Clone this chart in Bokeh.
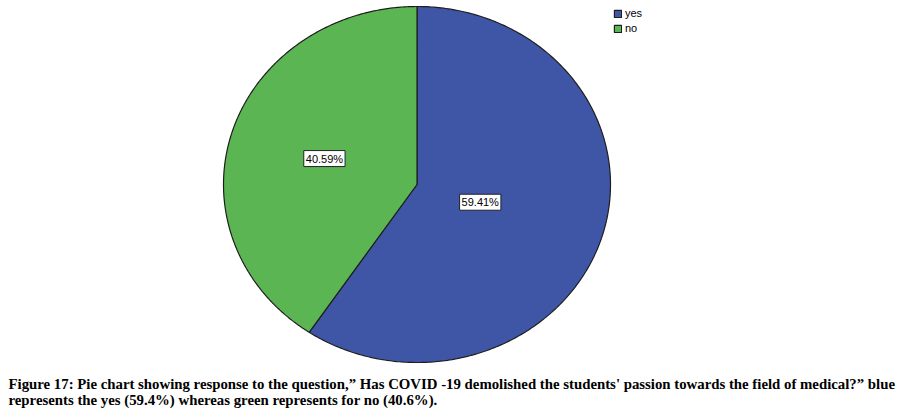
import numpy as np
from bokeh.plotting import figure
from bokeh.models import Range1d, Legend, LegendItem, ColumnDataSource
from bokeh.core.properties import value
from bokeh.embed import file_html
from bokeh.resources import INLINE

categories = ["yes", "no"]
percents = [59.41, 40.59]
colors = ["#3f55a5", "#5bb553"]
caption_lines = [
    "Figure 17: Pie chart showing response to the question,\u201d Has COVID -19 demolished the students' passion towards the field of medical?\u201d blue",
    "represents the yes  (59.4%) whereas green represents for no (40.6%).",
]

W, H = 912, 414
p = figure(width=W, height=H, output_backend="svg", toolbar_location=None,
           x_range=Range1d(0, W), y_range=Range1d(H, 0),
           min_border=0, outline_line_color=None)
p.axis.visible = False
p.grid.visible = False
p.background_fill_color = "white"

# ellipse layout
cx, cy, rx, ry = 416.5, 184.0, 193.5, 178.0

total = sum(percents)
start = 90.0
renderers = []
label_x, label_y, label_t = [], [], []
for cat, pct, col in zip(categories, percents, colors):
    sweep = pct / total * 360.0
    end = start - sweep
    a = np.radians(np.linspace(start, end, 300))
    xs = np.concatenate([[cx], cx + rx * np.cos(a)])
    ys = np.concatenate([[cy], cy - ry * np.sin(a)])
    r = p.patch(xs, ys, fill_color=col, line_color="#1e1e1e", line_width=1.2)
    renderers.append((cat, r))
    # centroid of sector
    th = np.radians(sweep)
    d = 4 * np.sin(th / 2) / (3 * th)
    mid = np.radians((start + end) / 2)
    label_x.append(cx + d * rx * np.cos(mid))
    label_y.append(cy - d * ry * np.sin(mid))
    label_t.append(f"{pct:.2f}%")
    start = end

src = ColumnDataSource(dict(x=label_x, y=label_y, t=label_t))
p.text("x", "y", text="t", source=src, text_align="center", text_baseline="middle",
       text_font=value("Liberation Sans"), text_font_size="11px", text_color="black",
       background_fill_color="white", border_line_color="#222222", border_line_width=1,
       padding=2)

legend = Legend(items=[LegendItem(label=c, renderers=[r]) for c, r in renderers],
                location=(613, H - 34), orientation="vertical",
                glyph_width=9, glyph_height=9, label_height=10, label_standoff=3,
                spacing=3, padding=0, margin=0,
                label_text_font="Liberation Sans", label_text_font_size="11px",
                label_text_color="black",
                border_line_color=None, background_fill_alpha=0)
p.add_layout(legend, "center")

p.text(x=[8, 8], y=[383, 399], text=caption_lines, text_align="left", text_baseline="middle",
       text_font=value("Liberation Serif"), text_font_style="bold", text_font_size="14.8px",
       text_color="black")

open("out.html", "w").write(file_html(p, INLINE))
